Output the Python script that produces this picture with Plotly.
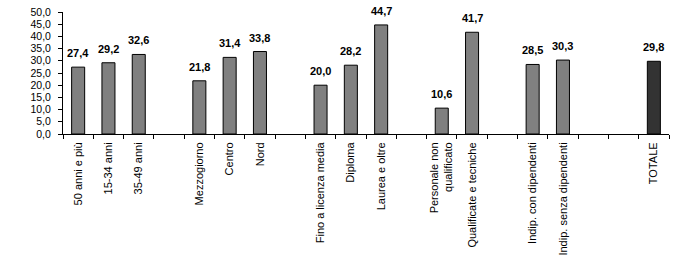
import plotly.graph_objects as go

categories = ["50 anni e più", "15-34 anni", "35-49 anni", " ",
              "Mezzogiorno", "Centro", "Nord", "  ",
              "Fino a licenza media", "Diploma", "Laurea e oltre", "   ",
              "Personale non<br>qualificato", "Qualificate e tecniche", "    ",
              "Indip. con dipendenti", "Indip. senza dipendenti", "     ", "      ",
              "TOTALE"]
values = [27.4, 29.2, 32.6, None,
          21.8, 31.4, 33.8, None,
          20.0, 28.2, 44.7, None,
          10.6, 41.7, None,
          28.5, 30.3, None, None,
          29.8]
y_ticks = [0, 5, 10, 15, 20, 25, 30, 35, 40, 45, 50]

colors = ["#333333" if c == "TOTALE" else "#808080" for c in categories]

fig = go.Figure(go.Bar(
    x=categories, y=values, width=0.43,
    marker=dict(color=colors, line=dict(color="black", width=1)),
    cliponaxis=False,
))

for c, v in zip(categories, values):
    if v is None:
        continue
    fig.add_annotation(
        x=c, y=v, text=f"<b>{v:.1f}</b>".replace(".", ","),
        showarrow=False, yanchor="bottom", yshift=6,
        font=dict(family="Liberation Sans", size=11, color="black"),
    )

fig.update_layout(
    width=700, height=255,
    margin=dict(l=63, r=31, t=12, b=121, autoexpand=False),
    paper_bgcolor="white", plot_bgcolor="white",
    showlegend=False,
    separators=",.",
    font=dict(family="Liberation Sans", size=10.5, color="black"),
)
fig.update_xaxes(
    type="category", categoryorder="array", categoryarray=categories,
    tickson="boundaries", ticks="outside", ticklen=4, tickcolor="black",
    ticklabelstandoff=3,
    showline=True, linecolor="black", linewidth=1, tickangle=-90,
    showgrid=False, tickfont=dict(size=11), automargin=False,
)
fig.update_yaxes(
    range=[0, 50], tickvals=y_ticks, tickformat=".1f",
    ticks="outside", ticklen=4, tickcolor="black", ticklabelstandoff=5,
    showline=True, linecolor="black", linewidth=1,
    showgrid=False, zeroline=False, tickfont=dict(size=10.5), automargin=False,
)

fig.write_html("out.html")
